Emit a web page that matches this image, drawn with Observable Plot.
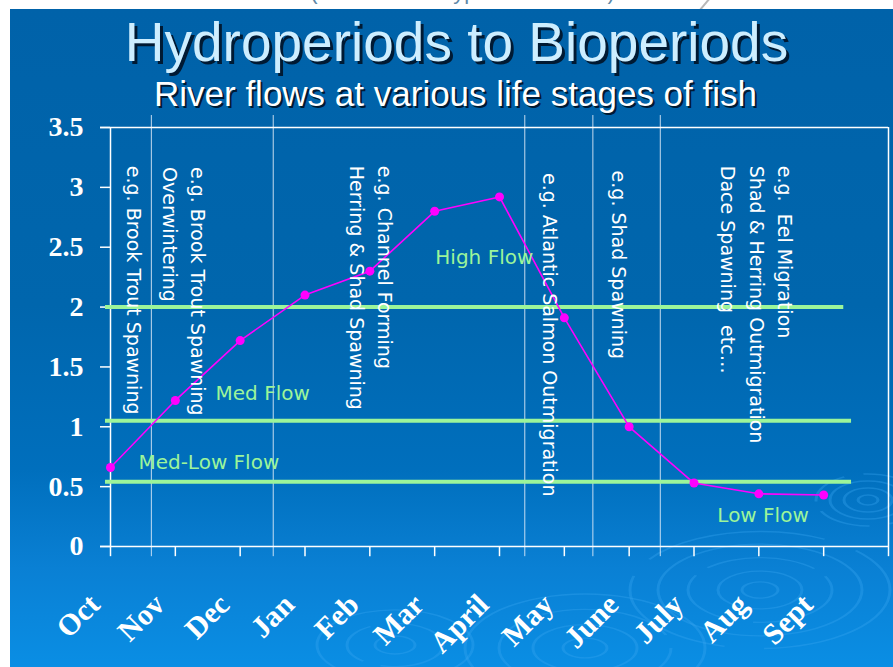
<!DOCTYPE html>
<html>
<head>
<meta charset="utf-8">
<script src="https://cdn.jsdelivr.net/npm/d3@7"></script>
<script src="https://cdn.jsdelivr.net/npm/@observablehq/plot@0.6"></script>
<style>
  html, body { margin: 0; padding: 0; background: #ffffff; }
  #page { position: relative; width: 893px; height: 667px; overflow: hidden; background: #ffffff; }
  #note { position: absolute; left: 0; top: -21px; width: 925px; text-align: center;
          font: 22px "Liberation Sans", Arial, sans-serif; color: #5d88a8; white-space: nowrap; }
  #slide { position: absolute; left: 10px; top: 9px; width: 883px; height: 658px;
           background: linear-gradient(to bottom, #0062a9 0%, #0066ad 45%, #006fbd 70%, #0a80d4 85%, #0a8ee4 100%); }
  #ripples { position: absolute; left: 0; top: 0; }
  #slash { position: absolute; left: 704px; top: -4px; width: 2px; height: 16px; background: #b8b8b8; transform: rotate(40deg); }
  #title { position: absolute; left: 0; top: 15px; width: 913px; text-align: center;
           font: 55px/55px "Liberation Sans", Arial, sans-serif; color: #cdeeff;
           text-shadow: 3px 3px 0 #001a33; white-space: nowrap; }
  #subtitle { position: absolute; left: 0; top: 76px; width: 911px; text-align: center;
           font: 35px/35px "Liberation Sans", Arial, sans-serif; color: #ffffff;
           text-shadow: 2px 2px 0 #001a33; white-space: nowrap; }
  #chart { position: absolute; left: 0; top: 115px; }
  #chart svg { background: transparent; overflow: visible; }
</style>
</head>
<body>
<div id="page">
  <div id="note">(Illustrative – hypothetical data)</div>
  <div id="slash"></div>
  <div id="slide"></div>
  <svg id="ripples" width="893" height="667" fill="none" stroke="#3aa6f0" stroke-opacity="0.35" stroke-width="3">
    <g transform="translate(760,590) scale(1,0.45)">
      <circle r="18"/><circle r="42"/><circle r="72" stroke-dasharray="120 20"/><circle r="102"/><circle r="130" stroke-dasharray="200 40"/>
    </g>
    <g transform="translate(585,648) scale(1,0.45)">
      <circle r="22"/><circle r="52"/><circle r="86" stroke-dasharray="150 30"/><circle r="120"/>
    </g>
    <g transform="translate(395,645) scale(1,0.45)">
      <circle r="20"/><circle r="48" stroke-dasharray="90 20"/><circle r="78"/>
    </g>
    <g transform="translate(868,500) scale(1,0.5)">
      <circle r="10"/><circle r="24"/><circle r="38"/><circle r="52" stroke-dasharray="60 20"/>
    </g>
  </svg>
  <div id="title">Hydroperiods to Bioperiods</div>
  <div id="subtitle">River flows at various life stages of fish</div>
  <div id="chart"></div>
</div>
<script>
// ---- data ----
const months = ["Oct", "Nov", "Dec", "Jan", "Feb", "Mar", "April", "May", "June", "July", "Aug", "Sept"];
const flows = [0.66, 1.22, 1.72, 2.10, 2.30, 2.80, 2.92, 1.91, 1.00, 0.53, 0.44, 0.43];
const yTicks = [0, 0.5, 1, 1.5, 2, 2.5, 3, 3.5];
const xTicks = [0, 1, 2, 3, 4, 5, 6, 7, 8, 9, 10, 11, 12];

// flow thresholds (horizontal green lines)
const thresholdValues = [2.0, 1.05, 0.54];
const thresholdEnds = [11.31, 11.43, 11.43];

// vertical separators between life-stage periods (in month-index units)
const periodBounds = [0.63, 2.51, 6.39, 7.44, 8.48];

// flow labels
const flowLabels = ["High Flow", "Med Flow", "Med-Low Flow", "Low Flow"];
const flowLabelX = [5.01, 1.62, 0.43, 9.36];
const flowLabelY = [2.41, 1.28, 0.70, 0.26];

// life-stage annotations (rotated)
const stageTexts = [
  "e.g. Brook Trout Spawning",
  "e.g. Brook Trout Spawning\nOverwintering",
  "e.g. Channel Forming\nHerring & Shad Spawning",
  "e.g. Atlantic Salmon Outmigration",
  "e.g. Shad Spawning",
  "e.g.  Eel Migration\nShad & Herring Outmigration\nDace Spawning  etc…"
];
const stageX = [0.57, 1.56, 4.44, 6.99, 8.05, 10.61];
const stageY = [3.18, 3.17, 3.18, 3.12, 3.14, 3.18];

// ---- build tables ----
const series = months.map((m, i) => ({i, month: m, flow: flows[i]}));
const thresholds = thresholdValues.map((v, k) => ({v, x2: thresholdEnds[k]}));
const flowLab = flowLabels.map((t, k) => ({t, x: flowLabelX[k], y: flowLabelY[k]}));
const stages = stageTexts.map((t, k) => ({t, x: stageX[k], y: stageY[k]}));

const white = "#ffffff";
const green = "#9cf59a";
const magenta = "#ff00ff";
const sans = "'DejaVu Sans', Verdana, sans-serif";
const serif = "'Liberation Serif', 'Times New Roman', serif";

const plot = Plot.plot({
  width: 893,
  height: 552,
  marginLeft: 110,
  marginRight: 5,
  marginTop: 12,
  marginBottom: 121,
  style: {background: "transparent", overflow: "visible"},
  x: {domain: [0, 12], axis: null},
  y: {domain: [0, 3.5], axis: null},
  marks: [
    // vertical period separators
    Plot.ruleX(periodBounds, {y1: -0.085, y2: 3.6, stroke: "#e8f0fa", strokeWidth: 1, strokeOpacity: 0.85}),
    // frame
    Plot.ruleY([3.5], {x1: -0.154, x2: 12, stroke: white, strokeWidth: 1.5}),
    Plot.ruleX([12], {y1: 0, y2: 3.5, stroke: white, strokeWidth: 1.5}),
    Plot.ruleX([0], {y1: 0, y2: 3.5, stroke: white, strokeWidth: 1.5}),
    Plot.ruleY([0], {x1: -0.154, x2: 12, stroke: white, strokeWidth: 1.5}),
    // x ticks
    Plot.ruleX(xTicks, {y1: 0, y2: -0.085, stroke: white, strokeWidth: 1.5}),
    // y axis
    Plot.axisY({ticks: yTicks, tickSize: 10, tickPadding: 17, tickFormat: d => String(d),
      fontSize: 28, fontFamily: serif, fontWeight: "bold", color: white, stroke: white, strokeWidth: 1.5, label: null}),
    // x labels
    Plot.text(series, {x: "i", y: 0, text: "month", rotate: -45, textAnchor: "end", lineAnchor: "bottom",
      dx: -9, dy: 60, fill: white, fontSize: 30, fontFamily: serif, fontWeight: "bold"}),
    // thresholds
    Plot.ruleY(thresholds, {y: "v", x1: -0.077, x2: "x2", stroke: green, strokeWidth: 4}),
    // flow line
    Plot.line(series, {x: "i", y: "flow", stroke: magenta, strokeWidth: 1.6}),
    Plot.dot(series, {x: "i", y: "flow", r: 4.5, fill: magenta, stroke: "none"}),
    // flow labels
    Plot.text(flowLab, {x: "x", y: "y", text: "t", textAnchor: "start", fill: green, fontSize: 20, fontFamily: sans}),
    // stage annotations
    Plot.text(stages, {x: "x", y: "y", text: "t", rotate: 90, textAnchor: "start", lineAnchor: "top",
      lineHeight: 1.5, fill: white, fontSize: 19, fontFamily: sans})
  ]
});
document.getElementById("chart").appendChild(plot);
</script>
</body>
</html>
